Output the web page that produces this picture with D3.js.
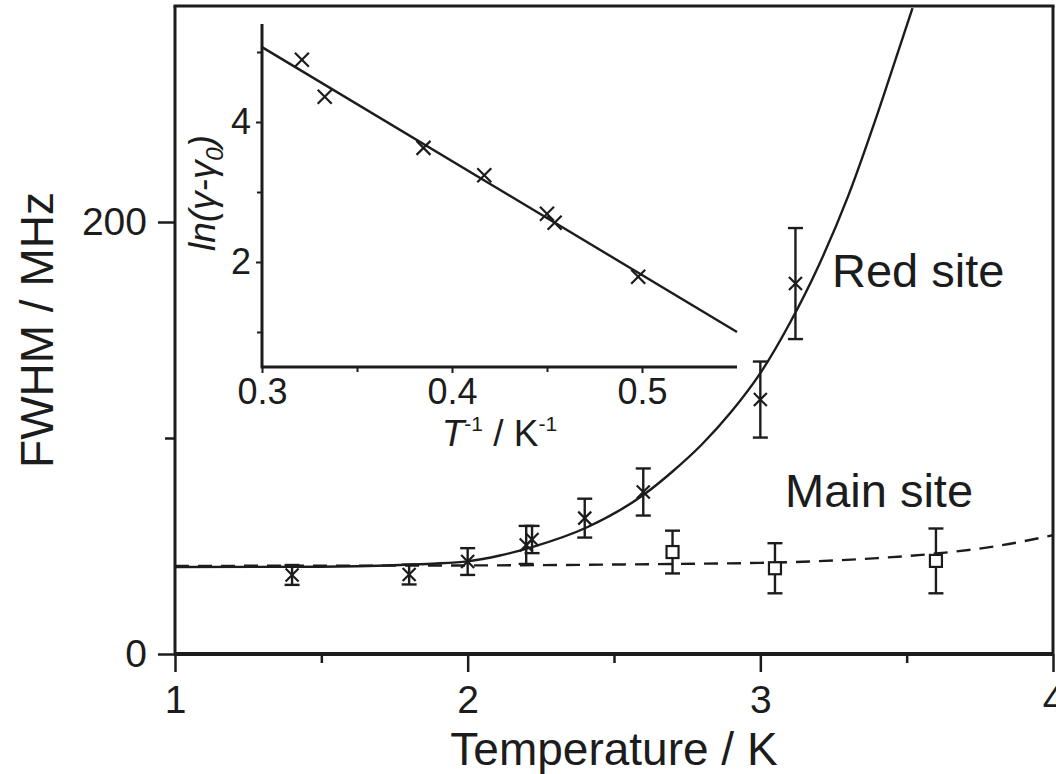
<!DOCTYPE html>
<html>
<head>
<meta charset="utf-8">
<script src="https://cdn.jsdelivr.net/npm/d3@7"></script>
<style>
  body { margin: 0; background: #fff; }
  svg { display: block; font-family: "Liberation Sans", Arial, Helvetica, sans-serif; }
</style>
</head>
<body>
<svg id="chart" width="1056" height="774"></svg>
<script>
// ---------- data ----------
// Red site (crosses)
const redT      = [1.4, 1.8, 2.0, 2.2, 2.22, 2.4, 2.6, 3.0, 3.12];
const redFWHM   = [36.6, 36.8, 42.8, 50.5, 53.0, 62.9, 75.0, 117.8, 171.5];
const redErr    = [4.6, 4.6, 6.2, 8.8, 6.3, 9.0, 10.9, 17.6, 25.7];
// Main site (squares)
const mainT     = [2.7, 3.05, 3.6];
const mainFWHM  = [47.2, 39.7, 43.1];
const mainErr   = [9.9, 11.6, 15.0];
// Fit curves
const redFitT    = [1.0, 1.5, 1.77, 1.88, 2.0, 2.11, 2.22, 2.41, 2.6, 2.7, 2.8, 2.9, 3.0, 3.1, 3.2, 3.3, 3.42, 3.52];
const redFitFWHM = [40.3, 40.4, 41.2, 41.8, 42.9, 45.6, 49.5, 58.8, 73.6, 84.5, 97.0, 112.0, 130.0, 153.0, 180.0, 212.0, 258.0, 299.0];
const mainFitT    = [1.0, 2.0, 2.4, 2.7, 3.0, 3.2, 3.4, 3.6, 3.8, 4.0];
const mainFitFWHM = [40.8, 41.0, 41.3, 41.7, 42.2, 43.0, 44.4, 46.5, 49.8, 55.0];
// Axis ticks
const xMajor = [1, 2, 3, 4];
const xMinor = [1.5, 2.5, 3.5];
const yMajor = [0, 200];
const yMinor = [100];
// Inset: ln(gamma - gamma0) vs 1/T
const invT      = [0.321, 0.333, 0.385, 0.417, 0.450, 0.454, 0.498];
const lnExcess  = [4.89, 4.36, 3.63, 3.24, 2.69, 2.56, 1.79];
const invFitX   = [0.30, 0.55];
const invFitY   = [5.07, 1.00];
const ixMajor = [0.3, 0.4, 0.5];
const ixMinor = [0.35, 0.45];
const iyMajor = [2, 4];
const iyMinor = [1, 3, 5];

// ---------- drawing ----------
const svg = d3.select("#chart");
const ink = "#1c1c1c";

const x = d3.scaleLinear().domain([1, 4]).range([175, 1053]);
const y = d3.scaleLinear().domain([0, 300]).range([654, 6]);

svg.append("rect").attr("width", 1056).attr("height", 774).attr("fill", "#fff");

svg.append("clipPath").attr("id", "plotclip")
  .append("rect").attr("x", x(1)).attr("y", y(300)).attr("width", x(4) - x(1)).attr("height", y(0) - y(300));

function styleAxis(g, fontSize, width) {
  g.select(".domain").remove();
  g.selectAll(".tick line").attr("stroke", ink).attr("stroke-width", width);
  g.selectAll(".tick text").attr("fill", ink).attr("font-size", fontSize)
    .attr("font-family", "'Liberation Sans', Arial, sans-serif");
}

// main axes: minor ticks
svg.append("g").attr("transform", `translate(0,${y(0)})`)
  .call(d3.axisBottom(x).tickValues(xMinor).tickSize(9).tickFormat(""))
  .call(g => styleAxis(g, 39, 2.5));
svg.append("g").attr("transform", `translate(${x(1)},0)`)
  .call(d3.axisLeft(y).tickValues(yMinor).tickSize(10).tickFormat(""))
  .call(g => styleAxis(g, 39, 2.5));
// major
svg.append("g").attr("transform", `translate(0,${y(0)})`)
  .call(d3.axisBottom(x).tickValues(xMajor).tickSize(18).tickPadding(13).tickFormat(d3.format("d")))
  .call(g => styleAxis(g, 39, 2.5));
svg.append("g").attr("transform", `translate(${x(1)},0)`)
  .call(d3.axisLeft(y).tickValues(yMajor).tickSize(17).tickPadding(11).tickFormat(d3.format("d")))
  .call(g => styleAxis(g, 39, 2.5));

// frame
const frame = svg.append("g").attr("fill", "none").attr("stroke", ink);
frame.append("line").attr("x1", x(1)).attr("x2", x(4)).attr("y1", y(0)).attr("y2", y(0)).attr("stroke-width", 4);
frame.append("line").attr("x1", x(1)).attr("x2", x(1)).attr("y1", y(0) + 1.5).attr("y2", y(300)).attr("stroke-width", 3);
frame.append("line").attr("x1", x(1) - 1.5).attr("x2", x(4) + 1.5).attr("y1", y(300)).attr("y2", y(300)).attr("stroke-width", 3);
frame.append("line").attr("x1", x(4)).attr("x2", x(4)).attr("y1", y(300)).attr("y2", y(0)).attr("stroke-width", 3);

// axis titles
svg.append("text").attr("x", (x(1) + x(4)) / 2).attr("y", 765)
  .attr("text-anchor", "middle").attr("font-size", 46).attr("fill", ink)
  .text("Temperature / K");
svg.append("text").attr("transform", "translate(53,330) rotate(-90)")
  .attr("text-anchor", "middle").attr("font-size", 46).attr("fill", ink)
  .text("FWHM / MHz");

// fit curves
const plot = svg.append("g").attr("clip-path", "url(#plotclip)");
const redFit = redFitT.map((t, i) => [t, redFitFWHM[i]]);
const mainFit = mainFitT.map((t, i) => [t, mainFitFWHM[i]]);
const line = d3.line().x(d => x(d[0])).y(d => y(d[1])).curve(d3.curveMonotoneX);
plot.append("path").datum(mainFit).attr("d", line)
  .attr("fill", "none").attr("stroke", ink).attr("stroke-width", 2.4).attr("stroke-dasharray", "14,9");
plot.append("path").datum(redFit).attr("d", line)
  .attr("fill", "none").attr("stroke", ink).attr("stroke-width", 2.4);

// error bars
function errorBars(ts, vals, errs) {
  const g = svg.append("g").attr("stroke", ink).attr("stroke-width", 2.4).attr("fill", "none");
  ts.forEach((t, i) => {
    const cx = x(t), top = y(vals[i] + errs[i]), bot = y(vals[i] - errs[i]);
    g.append("line").attr("x1", cx).attr("x2", cx).attr("y1", top).attr("y2", bot);
    g.append("line").attr("x1", cx - 7.5).attr("x2", cx + 7.5).attr("y1", top).attr("y2", top);
    g.append("line").attr("x1", cx - 7.5).attr("x2", cx + 7.5).attr("y1", bot).attr("y2", bot);
  });
}
errorBars(redT, redFWHM, redErr);
errorBars(mainT, mainFWHM, mainErr);

// cross markers
function crosses(sel, xs, ys, sx, sy, r, w) {
  const g = sel.append("g").attr("stroke", ink).attr("stroke-width", w);
  xs.forEach((v, i) => {
    const cx = sx(v), cy = sy(ys[i]);
    g.append("line").attr("x1", cx - r).attr("y1", cy - r).attr("x2", cx + r).attr("y2", cy + r);
    g.append("line").attr("x1", cx - r).attr("y1", cy + r).attr("x2", cx + r).attr("y2", cy - r);
  });
}
crosses(svg, redT, redFWHM, x, y, 6.5, 2.2);

// square markers
svg.append("g").selectAll("rect").data(mainT).join("rect")
  .attr("x", (d) => x(d) - 6).attr("y", (d, i) => y(mainFWHM[i]) - 6)
  .attr("width", 12).attr("height", 12)
  .attr("fill", "#fff").attr("stroke", ink).attr("stroke-width", 2.2);

// labels
svg.append("text").attr("x", 832).attr("y", 287).attr("font-size", 47).attr("fill", ink).text("Red site");
svg.append("text").attr("x", 785).attr("y", 507).attr("font-size", 47).attr("fill", ink).text("Main site");

// ---------- inset ----------
const ix = d3.scaleLinear().domain([0.3, 0.55]).range([262, 737]);
const iy = d3.scaleLinear().domain([0.5, 5.4]).range([367, 24]);
const inset = svg.append("g");

inset.append("g").attr("transform", `translate(0,${iy(0.5)})`)
  .call(d3.axisBottom(ix).tickValues(ixMinor).tickSize(5).tickFormat(""))
  .call(g => styleAxis(g, 36, 2));
inset.append("g").attr("transform", `translate(0,${iy(0.5)})`)
  .call(d3.axisBottom(ix).tickValues(ixMajor).tickSize(6).tickPadding(5).tickFormat(d3.format(".1f")))
  .call(g => styleAxis(g, 36, 2));
inset.append("g").attr("transform", `translate(${ix(0.3)},0)`)
  .call(d3.axisLeft(iy).tickValues(iyMinor).tickSize(5).tickFormat(""))
  .call(g => styleAxis(g, 36, 2));
inset.append("g").attr("transform", `translate(${ix(0.3)},0)`)
  .call(d3.axisLeft(iy).tickValues(iyMajor).tickSize(6).tickPadding(5).tickFormat(d3.format("d")))
  .call(g => styleAxis(g, 36, 2));

inset.append("line").attr("x1", ix(0.3)).attr("x2", ix(0.55)).attr("y1", iy(0.5)).attr("y2", iy(0.5))
  .attr("stroke", ink).attr("stroke-width", 3);
inset.append("line").attr("x1", ix(0.3)).attr("x2", ix(0.3)).attr("y1", iy(0.5) + 1.5).attr("y2", iy(5.4))
  .attr("stroke", ink).attr("stroke-width", 3);

inset.append("line")
  .attr("x1", ix(invFitX[0])).attr("y1", iy(invFitY[0]))
  .attr("x2", ix(invFitX[1])).attr("y2", iy(invFitY[1]))
  .attr("stroke", ink).attr("stroke-width", 2.4);
crosses(inset, invT, lnExcess, ix, iy, 7, 2.2);

// inset titles
const ixt = inset.append("text").attr("x", (ix(0.3) + ix(0.55)) / 2).attr("y", 446)
  .attr("text-anchor", "middle").attr("font-size", 37).attr("fill", ink);
ixt.append("tspan").attr("font-style", "italic").text("T");
ixt.append("tspan").attr("font-size", 21).attr("dy", -15).text("-1");
ixt.append("tspan").attr("dy", 15).text(" / K");
ixt.append("tspan").attr("font-size", 21).attr("dy", -15).text("-1");

const iyt = inset.append("text").attr("transform", "translate(215,193) rotate(-90)")
  .attr("text-anchor", "middle").attr("font-size", 37).attr("font-style", "italic").attr("fill", ink);
iyt.append("tspan").text("ln(γ-γ");
iyt.append("tspan").attr("font-size", 24).attr("dy", 8).text("0");
iyt.append("tspan").attr("dy", -8).text(")");
</script>
</body>
</html>
